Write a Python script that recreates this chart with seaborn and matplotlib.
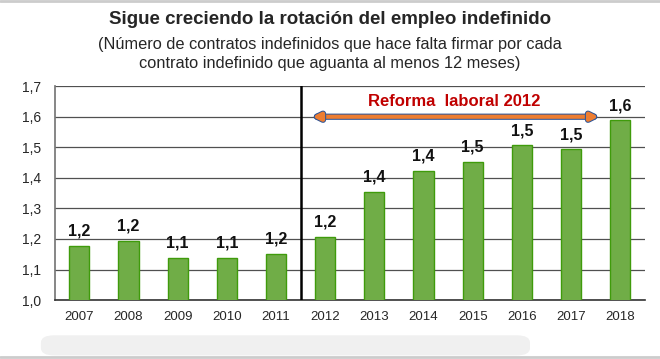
import pandas as pd
import seaborn as sns
import matplotlib.pyplot as plt
import matplotlib.patheffects as pe
from matplotlib.patches import FancyBboxPatch
from matplotlib.lines import Line2D

# Datos
years = ['2007', '2008', '2009', '2010', '2011', '2012',
         '2013', '2014', '2015', '2016', '2017', '2018']
rotacion = [1.176, 1.193, 1.137, 1.137, 1.152, 1.206,
            1.353, 1.422, 1.451, 1.506, 1.493, 1.588]
yticks = [1.0, 1.1, 1.2, 1.3, 1.4, 1.5, 1.6, 1.7]

df = pd.DataFrame({'year': years, 'valor': rotacion})

sns.set_theme(style='white')
plt.rcParams['font.family'] = ['Liberation Sans', 'DejaVu Sans']

fig = plt.figure(figsize=(6.6, 3.59), dpi=100)
ax = fig.add_axes([0.083, 0.164, 0.894, 0.596])

sns.barplot(data=df, x='year', y='valor', ax=ax, color='#70ad47',
            saturation=1, width=0.41, edgecolor='#3f9b0b', linewidth=1,
            zorder=3)

ax.set_ylim(1.0, 1.7)
ax.set_xlim(-0.5, 11.5)
ax.set_yticks(yticks)
ax.set_yticklabels([f'{v:.1f}'.replace('.', ',') for v in yticks], fontsize=10)
ax.tick_params(axis='x', labelsize=9.5, length=0, pad=8)
ax.tick_params(axis='y', length=0, pad=10)
ax.set_xlabel('')
ax.set_ylabel('')
ax.yaxis.grid(True, color='#505050', linewidth=0.9, zorder=0)

for s in ['top', 'right']:
    ax.spines[s].set_visible(False)
ax.spines['left'].set_color('#777777')
ax.spines['bottom'].set_color('#333333')
ax.spines['bottom'].set_linewidth(1.2)

# Etiquetas de valor
for i, v in enumerate(rotacion):
    ax.text(i, v + 0.024, f'{round(v, 1):.1f}'.replace('.', ','),
            ha='center', va='bottom', fontsize=11.5, fontweight='bold',
            color='#111111')

# Línea de la reforma y flecha
ax.axvline(4.5, color='black', linewidth=1.8, zorder=4)
ax.annotate('', xy=(4.68, 1.6), xytext=(10.62, 1.6),
            arrowprops=dict(arrowstyle='<|-|>', color='#ed7d31', lw=3,
                            mutation_scale=11,
                            path_effects=[pe.withStroke(linewidth=4.5, foreground='#2f5597')]),
            zorder=5)
ax.text(7.63, 1.65, 'Reforma  laboral 2012', ha='center', va='center',
        fontsize=12, fontweight='bold', color='#c00000')

# Títulos
fig.text(0.5, 0.945, 'Sigue creciendo la rotación del empleo indefinido',
         ha='center', va='center', fontsize=13.5, fontweight='bold')
fig.text(0.5, 0.875, '(Número de contratos indefinidos que hace falta firmar por cada',
         ha='center', va='center', fontsize=11.8)
fig.text(0.5, 0.823, 'contrato indefinido que aguanta al menos 12 meses)',
         ha='center', va='center', fontsize=11.8)

# Bordes grises y mancha inferior de la imagen original
fig.add_artist(Line2D([0, 1], [0.997, 0.997], color='#cccccc', lw=2))
fig.add_artist(Line2D([0, 1], [0.006, 0.006], color='#cccccc', lw=2))
fig.add_artist(FancyBboxPatch((0.07, 0.018), 0.725, 0.04,
                              boxstyle='round,pad=0.008,rounding_size=0.02',
                              transform=fig.transFigure, facecolor='#f0f0f0',
                              edgecolor='none'))

fig.savefig('out.png', dpi=100, facecolor='white')
